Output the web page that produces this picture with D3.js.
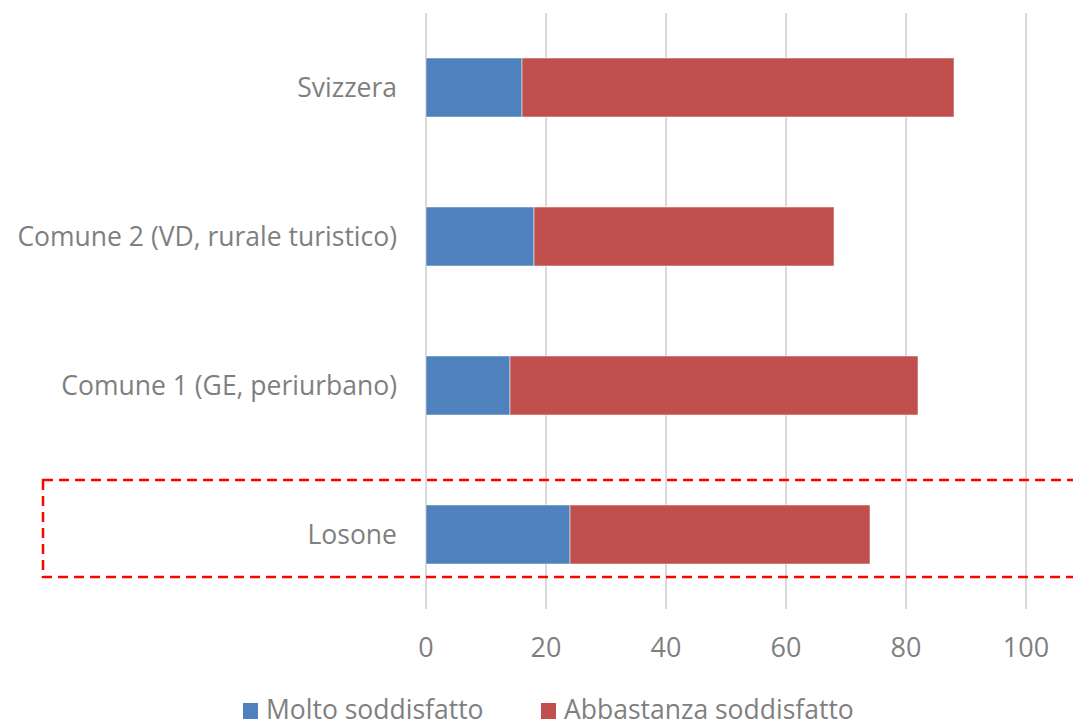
<!DOCTYPE html>
<html>
<head>
<meta charset="utf-8">
<script src="https://cdn.jsdelivr.net/npm/d3@7"></script>
<style>
  body { margin: 0; background: #fff; }
  svg text { font-family: "Open Sans", sans-serif; fill: #7f7f7f; }
</style>
</head>
<body>
<script>
'use strict';

// data
let categories = ["Svizzera", "Comune 2 (VD, rurale turistico)", "Comune 1 (GE, periurbano)", "Losone"];
let molto = [16, 18, 14, 24];
let abbastanza = [72, 50, 68, 50];
let seriesNames = ["Molto soddisfatto", "Abbastanza soddisfatto"];
let xTicks = [0, 20, 40, 60, 80, 100];

let colors = { "Molto soddisfatto": "#4f81bd", "Abbastanza soddisfatto": "#c0504d" };

let svgContainer = d3.select('body')
  .append('svg')
  .attr('width', 1073)
  .attr('height', 722);

// scales
let xScale = d3.scaleLinear()
  .domain([0, 100])
  .range([426, 1026]);

let yScale = d3.scaleBand()
  .domain(categories)
  .range([13, 609])
  .paddingInner(0.604)
  .paddingOuter(0.302);

// gridlines
svgContainer.selectAll('.grid')
  .data(xTicks)
  .enter().append('line')
  .attr('x1', d => xScale(d))
  .attr('x2', d => xScale(d))
  .attr('y1', 13)
  .attr('y2', 609)
  .attr('stroke', '#d9d9d9')
  .attr('stroke-width', 2);

// stacked bars
let rows = categories.map((c, i) => ({ cat: c, "Molto soddisfatto": molto[i], "Abbastanza soddisfatto": abbastanza[i] }));
let stacked = d3.stack().keys(seriesNames)(rows);

svgContainer.selectAll('.series')
  .data(stacked)
  .enter().append('g')
  .attr('fill', d => colors[d.key])
  .selectAll('rect')
  .data(d => d)
  .enter().append('rect')
    .attr('x', d => xScale(d[0]))
    .attr('y', d => yScale(d.data.cat))
    .attr('width', d => xScale(d[1]) - xScale(d[0]))
    .attr('height', yScale.bandwidth())
    .attr('stroke', '#ffffff')
    .attr('stroke-opacity', 0.5)
    .attr('stroke-width', 1);

// category labels
svgContainer.selectAll('.catlabel')
  .data(categories)
  .enter().append('text')
  .attr('x', 397)
  .attr('y', d => yScale(d) + yScale.bandwidth() / 2 + 9)
  .attr('text-anchor', 'end')
  .style('font-size', '26.5px')
  .text(d => d);

// x tick labels
svgContainer.selectAll('.xtick')
  .data(xTicks)
  .enter().append('text')
  .attr('x', d => xScale(d))
  .attr('y', 657)
  .attr('text-anchor', 'middle')
  .style('font-size', '27px')
  .text(d => d);

// highlight box around Losone
svgContainer.append('rect')
  .attr('x', 43)
  .attr('y', 480)
  .attr('width', 1100)
  .attr('height', 97)
  .attr('fill', 'none')
  .attr('stroke', '#ff0000')
  .attr('stroke-width', 2.5)
  .attr('stroke-dasharray', '10,6');

// legend
let legendX = [243, 541];
let legend = svgContainer.selectAll('.legend')
  .data(seriesNames)
  .enter().append('g')
  .attr('transform', (d, i) => 'translate(' + legendX[i] + ', 703)');

legend.append('rect')
  .attr('width', 15)
  .attr('height', 16)
  .attr('fill', d => colors[d]);

legend.append('text')
  .attr('x', 23)
  .attr('y', 16)
  .style('font-size', '26.5px')
  .text(d => d);
</script>
</body>
</html>
